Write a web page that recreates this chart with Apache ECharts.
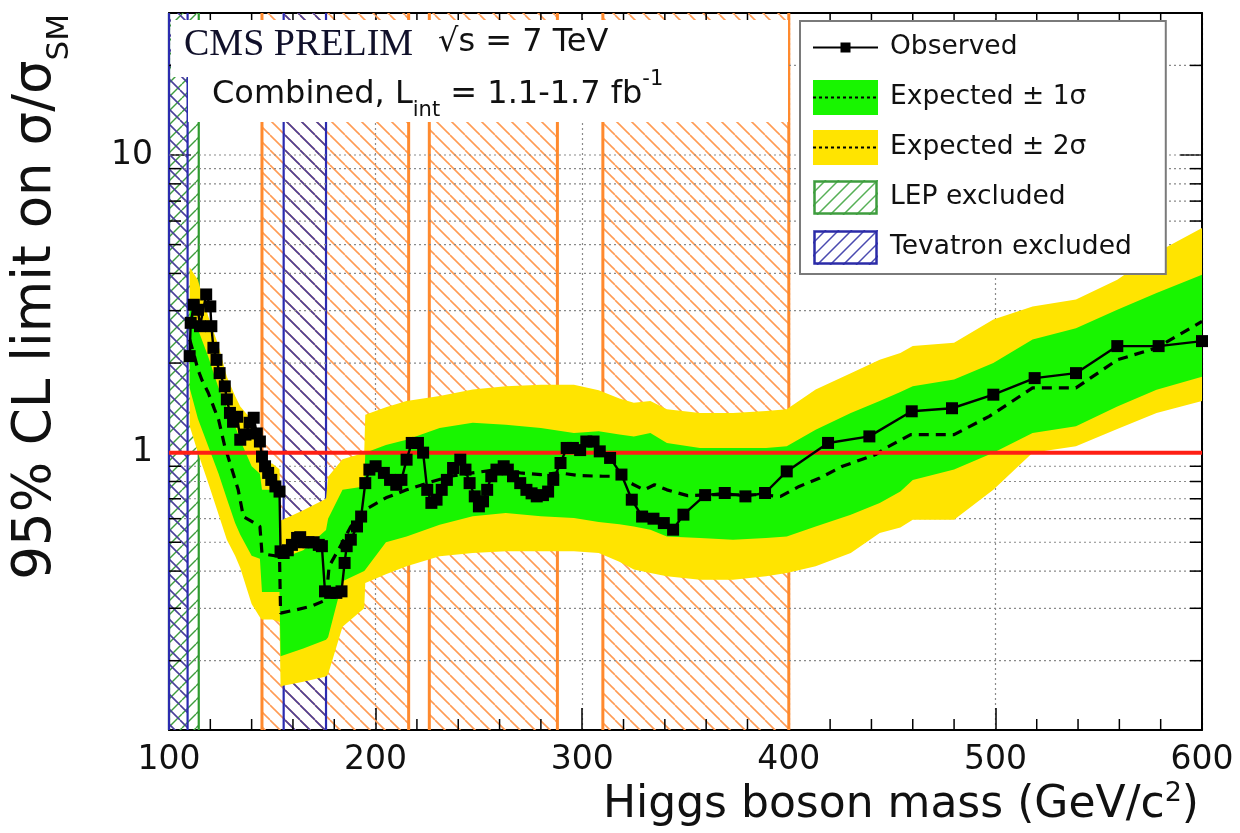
<!DOCTYPE html>
<html>
<head>
<meta charset="utf-8">
<title>CMS combined Higgs limit</title>
<script src="https://cdn.jsdelivr.net/npm/echarts@6/dist/echarts.min.js"></script>
<style>
  html, body { margin: 0; padding: 0; background: #fff; }
  #chart { width: 1240px; height: 833px; }
</style>
</head>
<body>
<div id="chart"></div>
<script>
// axis ranges (GeV on x, sigma/sigma_SM on a log y)
var xMin = 100, xMax = 600, yMin = 0.117, yMax = 30;
var refLimit = 1;

// observed limit
var obsMass = [
  110, 110.5, 112, 114, 115, 118, 120, 120.5, 121.5, 123,
  124.5, 127, 128, 129.5, 131, 133, 134.5, 137, 139, 141,
  142.5, 144, 145, 146.5, 148, 149.5, 151.5, 153.5, 154, 155.5,
  157.5, 159.5, 162, 163.5, 165, 167.5, 170, 172.5, 174, 175.5,
  178, 181, 183.5, 185, 186, 188, 191, 193, 195, 197,
  200, 204, 207, 210, 212.5, 215, 217.5, 220.5, 223, 225,
  227, 229.5, 232, 234.5, 237.5, 241, 243.5, 245.5, 248, 250,
  252, 254, 256, 258.5, 262, 264, 266.5, 270, 273, 275.5,
  278, 281, 283.5, 286, 289.5, 292.5, 295.5, 299, 302, 305.5,
  308.5, 313.5, 319, 324, 329, 334.5, 339.5, 344, 349, 359.5,
  369, 379, 388.5, 399, 419, 439, 459.5, 479, 499, 519,
  539, 559, 579, 600
];
var obsLimit = [
  2.11, 2.73, 3.14, 3.02, 2.66, 3.4, 3.1, 2.66, 2.25, 2.05,
  1.85, 1.67, 1.51, 1.36, 1.27, 1.32, 1.105, 1.15, 1.26, 1.31,
  1.16, 1.09, 0.97, 0.9, 0.855, 0.81, 0.77, 0.74, 0.466, 0.46,
  0.47, 0.49, 0.517, 0.52, 0.5, 0.5, 0.5, 0.49, 0.485, 0.342,
  0.338, 0.338, 0.342, 0.426, 0.485, 0.51, 0.565, 0.61, 0.79, 0.877,
  0.9, 0.855, 0.81, 0.78, 0.81, 0.947, 1.078, 1.078, 1.0, 0.75,
  0.678, 0.695, 0.75, 0.81, 0.888, 0.947, 0.877, 0.79, 0.713, 0.66,
  0.686, 0.75, 0.833, 0.877, 0.9, 0.877, 0.833, 0.79, 0.75, 0.73,
  0.713, 0.72, 0.74, 0.81, 0.923, 1.037, 1.037, 1.02, 1.09, 1.09,
  1.01, 0.96, 0.844, 0.695, 0.61, 0.6, 0.58, 0.551, 0.619, 0.72,
  0.732, 0.713, 0.732, 0.865, 1.078, 1.134, 1.377, 1.41, 1.566, 1.78,
  1.85, 2.28, 2.28, 2.37
];

// median expected limit
var expMass = [
  110, 112, 114, 116, 119, 122, 124, 127, 130, 133.5,
  136, 140, 144, 145, 148, 153.5, 154, 162, 169, 176,
  177.5, 184, 188, 195, 205, 215, 225, 236, 247, 259,
  270, 280, 289, 299, 310, 318, 325, 330, 335, 341,
  351, 360, 373, 386, 396, 405, 415, 426, 442, 447,
  459, 480, 497, 518, 539, 559, 578, 600
];
var expLimit = [
  2.4, 2.15, 1.9, 1.75, 1.59, 1.4, 1.29, 1.05, 0.9, 0.75,
  0.61, 0.588, 0.565, 0.46, 0.454, 0.448, 0.289, 0.297, 0.305, 0.32,
  0.415, 0.5, 0.565, 0.643, 0.705, 0.75, 0.79, 0.833, 0.855, 0.877,
  0.855, 0.844, 0.855, 0.837, 0.833, 0.833, 0.78, 0.75, 0.78, 0.75,
  0.717, 0.722, 0.722, 0.722, 0.713, 0.77, 0.822, 0.9, 0.985, 1.037,
  1.15, 1.15, 1.324, 1.65, 1.65, 2.05, 2.25, 2.76
];

// expected +-1 sigma / +-2 sigma bands
var bandMass = [
  110, 114, 119, 124, 128, 132, 134.5, 140, 144, 145,
  150, 153.5, 154, 165, 176, 177, 184, 194.5, 195, 205,
  215, 231, 247, 263, 280, 296, 308, 318, 325, 333,
  341, 357, 373, 389, 399, 413, 430, 444, 454, 460,
  480, 499, 518, 539, 559, 578, 600
];
var yellow2Up = [
  4.2, 3.8, 2.87, 2.28, 1.8, 1.55, 1.43, 1.29, 1.15, 0.92,
  0.92, 0.88, 0.59, 0.64, 0.7, 0.83, 0.95, 1.0, 1.34, 1.42,
  1.49, 1.55, 1.63, 1.67, 1.69, 1.69, 1.62, 1.52, 1.47, 1.49,
  1.4, 1.36, 1.36, 1.38, 1.4, 1.63, 1.85, 2.05, 2.16, 2.28,
  2.34, 2.8, 3.1, 3.27, 3.81, 4.7, 5.69
];
var green1Up = [
  3.2, 2.6, 2.1, 1.65, 1.42, 1.23, 1.1, 0.9, 0.85, 0.75,
  0.75, 0.75, 0.44, 0.47, 0.55, 0.6, 0.75, 0.77, 1.0, 1.06,
  1.105, 1.21, 1.26, 1.24, 1.21, 1.165, 1.18, 1.15, 1.134, 1.165,
  1.078, 1.037, 1.037, 1.037, 1.05, 1.195, 1.36, 1.49, 1.6, 1.67,
  1.76, 2.0, 2.4, 2.62, 3.02, 3.44, 3.96
];
var green1Down = [
  1.65, 1.3, 1.05, 0.85, 0.7, 0.58, 0.53, 0.45, 0.44, 0.34,
  0.34, 0.34, 0.207, 0.22, 0.235, 0.24, 0.37, 0.4, 0.404, 0.5,
  0.523, 0.573, 0.611, 0.627, 0.611, 0.603, 0.585, 0.575, 0.565, 0.551,
  0.523, 0.517, 0.51, 0.517, 0.523, 0.565, 0.619, 0.678, 0.74, 0.81,
  0.877, 1.0, 1.165, 1.226, 1.43, 1.628, 1.8
];
var yellow2Down = [
  1.23, 1.0, 0.79, 0.62, 0.51, 0.45, 0.41, 0.31, 0.28, 0.275,
  0.275, 0.27, 0.164, 0.17, 0.177, 0.18, 0.26, 0.3, 0.365, 0.39,
  0.415, 0.449, 0.46, 0.466, 0.466, 0.466, 0.46, 0.43, 0.405, 0.394,
  0.384, 0.374, 0.374, 0.384, 0.394, 0.415, 0.46, 0.537, 0.56, 0.595,
  0.595, 0.751, 1.0, 1.05, 1.2, 1.36, 1.49
];

// excluded mass ranges
var cmsExcluded = [[145, 216], [226, 288], [310, 400]];
var lepExcluded = [[100, 114.4]];
var tevExcluded = [[100, 109], [155.5, 176]];

// dotted y grid levels; 1 and 10 carry the long ticks
var yGridLevels = [0.2, 0.3, 0.4, 0.5, 0.6, 0.7, 0.8, 0.9, 2, 3, 4, 5, 6, 7, 8, 9, 10, 20];
var yMajor = [1, 10];
// minor x ticks every 20 GeV (bottom and top)
var xMinorTicks = [120, 140, 160, 180, 220, 240, 260, 280, 320, 340, 360, 380, 420, 440, 460, 480, 520, 540, 560, 580];

var FONT = 'DejaVu Sans';

function hatchPattern(color, slash, step, width) {
  var c = document.createElement('canvas');
  c.width = step; c.height = step;
  var g = c.getContext('2d');
  g.strokeStyle = color; g.lineWidth = width;
  for (var k = -1; k <= 1; k++) {
    g.beginPath();
    if (slash) { g.moveTo(k * step, step); g.lineTo(k * step + step, 0); }
    else { g.moveTo(k * step, 0); g.lineTo(k * step + step, step); }
    g.stroke();
  }
  return { image: c, repeat: 'repeat' };
}

function iconURL(draw) {
  var c = document.createElement('canvas');
  c.width = 65; c.height = 35;
  var g = c.getContext('2d');
  draw(g, 65, 35);
  return 'image://' + c.toDataURL();
}
function bandIcon(color) {
  return iconURL(function (g, w, h) {
    g.fillStyle = color; g.fillRect(0, 0, w, h);
    g.strokeStyle = '#000'; g.lineWidth = 2; g.setLineDash([3, 3]);
    g.beginPath(); g.moveTo(0, h / 2); g.lineTo(w, h / 2); g.stroke();
  });
}
function hatchIcon(color, lineColor) {
  return iconURL(function (g, w, h) {
    g.fillStyle = '#fff'; g.fillRect(0, 0, w, h);
    g.save(); g.beginPath(); g.rect(0, 0, w, h); g.clip();
    g.strokeStyle = lineColor; g.lineWidth = 1.5;
    for (var k = -h; k < w + h; k += 13) {
      g.beginPath(); g.moveTo(k, h); g.lineTo(k + h, 0); g.stroke();
    }
    g.restore();
    g.strokeStyle = color; g.lineWidth = 2.5;
    g.strokeRect(1.5, 1.5, w - 3, h - 3);
  });
}
var iconObserved = iconURL(function (g, w, h) {
  g.strokeStyle = '#000'; g.lineWidth = 2;
  g.beginPath(); g.moveTo(0, h / 2); g.lineTo(w, h / 2); g.stroke();
  g.fillStyle = '#000'; g.fillRect(w / 2 - 5, h / 2 - 5, 10, 10);
});

var orangeFill = hatchPattern('#ff9c55', false, 15, 1.6);
var blueFill = hatchPattern('#4a3f9a', false, 15, 1.6);
var greenFill = hatchPattern('#3e9d3e', true, 14, 1.4);

function hatchItem(fill, edge, edgeWidth) {
  return function (params, api) {
    var cs = params.coordSys;
    var a = api.coord([api.value(0), refLimit])[0];
    var b = api.coord([api.value(1), refLimit])[0];
    var y0 = cs.y, y1 = cs.y + cs.height;
    return {
      type: 'group',
      children: [
        { type: 'rect', shape: { x: a, y: y0, width: b - a, height: cs.height }, style: { fill: fill } },
        { type: 'line', shape: { x1: a, y1: y0, x2: a, y2: y1 }, style: { stroke: edge, lineWidth: edgeWidth } },
        { type: 'line', shape: { x1: b, y1: y0, x2: b, y2: y1 }, style: { stroke: edge, lineWidth: edgeWidth } }
      ]
    };
  };
}

function bandItem(upper, lower, color) {
  return function (params, api) {
    var pts = [];
    for (var i = 0; i < bandMass.length; i++) pts.push(api.coord([bandMass[i], upper[i]]));
    for (var j = bandMass.length - 1; j >= 0; j--) pts.push(api.coord([bandMass[j], lower[j]]));
    return { type: 'polygon', shape: { points: pts }, style: { fill: color } };
  };
}

// dotted horizontal grid + short minor ticks on both y axes
function yGuideItem(params, api) {
  var cs = params.coordSys;
  var v = api.value(1);
  var y = api.coord([xMin, v])[1];
  var kids = [{
    type: 'line',
    shape: { x1: cs.x, y1: y, x2: cs.x + cs.width, y2: y },
    style: { stroke: '#8a8a8a', lineWidth: 1.2, lineDash: [2, 3] }
  }];
  if (yMajor.indexOf(v) < 0) {
    kids.push({ type: 'line', shape: { x1: cs.x, y1: y, x2: cs.x + 12, y2: y }, style: { stroke: '#000', lineWidth: 1.5 } });
    kids.push({ type: 'line', shape: { x1: cs.x + cs.width - 12, y1: y, x2: cs.x + cs.width, y2: y }, style: { stroke: '#000', lineWidth: 1.5 } });
  }
  return { type: 'group', children: kids };
}

// short minor ticks on bottom and top x axes
function xTickItem(params, api) {
  var cs = params.coordSys;
  var x = api.coord([api.value(0), refLimit])[0];
  var yb = cs.y + cs.height, yt = cs.y;
  return {
    type: 'group',
    children: [
      { type: 'line', shape: { x1: x, y1: yb, x2: x, y2: yb - 11 }, style: { stroke: '#000', lineWidth: 1.5 } },
      { type: 'line', shape: { x1: x, y1: yt, x2: x, y2: yt + 11 }, style: { stroke: '#000', lineWidth: 1.5 } }
    ]
  };
}

function pairs(xs, ys) {
  return xs.map(function (x, i) { return [x, ys[i]]; });
}

var chart = echarts.init(document.getElementById('chart'));

var xAxisBase = {
  type: 'value', min: xMin, max: xMax, interval: 100,
  axisLine: { show: true, onZero: false, lineStyle: { color: '#000', width: 2 } },
  axisTick: { show: true, inside: true, length: 22, lineStyle: { color: '#000', width: 1.5 } }
};
var yAxisBase = {
  type: 'log', logBase: 10, min: yMin, max: yMax,
  axisLine: { show: true, onZero: false, lineStyle: { color: '#000', width: 2 } },
  axisTick: { show: true, inside: true, length: 22, lineStyle: { color: '#000', width: 1.5 } },
  splitLine: { show: false }
};

chart.setOption({
  backgroundColor: '#fff',
  animation: false,
  grid: { left: 169, right: 38, top: 13, bottom: 103, containLabel: false, outerBoundsMode: 'none' },
  xAxis: [
    Object.assign({}, xAxisBase, {
      position: 'bottom',
      axisLabel: { fontFamily: FONT, fontSize: 33, color: '#111', margin: 14 },
      splitLine: { show: true, lineStyle: { color: '#8a8a8a', width: 1.2, type: [2, 3] } }
    }),
    Object.assign({}, xAxisBase, {
      position: 'top',
      axisLabel: { show: false },
      splitLine: { show: false }
    })
  ],
  yAxis: [
    Object.assign({}, yAxisBase, {
      position: 'left',
      axisLabel: { fontFamily: FONT, fontSize: 33, color: '#111', margin: 16, showMinLabel: false, showMaxLabel: false }
    }),
    Object.assign({}, yAxisBase, {
      position: 'right',
      axisLabel: { show: false }
    })
  ],
  legend: {
    orient: 'vertical', left: 800, top: 21, z: 20,
    selectedMode: false,
    itemWidth: 65, itemHeight: 35, itemGap: 15,
    padding: [9, 34, 9, 13],
    backgroundColor: '#fff', borderColor: '#7a7a7a', borderWidth: 2,
    textStyle: { fontFamily: FONT, fontSize: 26.5, color: '#111', padding: [0, 0, 0, 7] },
    data: [
      { name: 'Observed', icon: iconObserved },
      { name: 'Expected ± 1σ', icon: bandIcon('#18f500') },
      { name: 'Expected ± 2σ', icon: bandIcon('#ffe400') },
      { name: 'LEP excluded', icon: hatchIcon('#3e9d3e', '#56b056') },
      { name: 'Tevatron excluded', icon: hatchIcon('#2b2ba8', '#4a4ab0') }
    ]
  },
  graphic: [
    { type: 'rect', z: 20, shape: { x: 171, y: 20, width: 617, height: 57 }, style: { fill: '#fff' } },
    { type: 'rect', z: 20, shape: { x: 188, y: 76, width: 600, height: 46 }, style: { fill: '#fff' } },
    {
      type: 'text', z: 21, x: 184, y: 45,
      style: { text: 'CMS PRELIM', fontFamily: 'Liberation Serif', fontSize: 38, fill: '#10102a', verticalAlign: 'middle' }
    },
    {
      type: 'text', z: 21, x: 438, y: 43,
      style: { text: '√s = 7 TeV', fontFamily: FONT, fontSize: 32, fill: '#111', verticalAlign: 'middle' }
    },
    {
      type: 'text', z: 21, x: 212, y: 95,
      style: {
        text: 'Combined, L{sub|int} = 1.1-1.7 fb{sup|-1}',
        fontFamily: FONT, fontSize: 32, lineHeight: 52, fill: '#111', verticalAlign: 'middle',
        rich: {
          sub: { fontFamily: FONT, fontSize: 21, lineHeight: 18, fill: '#111', verticalAlign: 'bottom' },
          sup: { fontFamily: FONT, fontSize: 21, lineHeight: 21, fill: '#111', verticalAlign: 'top' }
        }
      }
    },
    {
      type: 'text', z: 21, x: 36, y: 14, rotation: Math.PI / 2,
      style: {
        text: '95% CL limit on σ/σ{sub|SM}',
        fontFamily: FONT, fontSize: 53, lineHeight: 78, fill: '#111', align: 'right', verticalAlign: 'middle',
        rich: { sub: { fontFamily: FONT, fontSize: 31, lineHeight: 31, fill: '#111', verticalAlign: 'bottom' } }
      }
    },
    {
      type: 'text', z: 21, x: 1199, y: 806,
      style: {
        text: 'Higgs boson mass (GeV/c{sup|2})',
        fontFamily: FONT, fontSize: 44, lineHeight: 52, fill: '#111', align: 'right', verticalAlign: 'middle',
        rich: { sup: { fontFamily: FONT, fontSize: 27, lineHeight: 27, fill: '#111', verticalAlign: 'top' } }
      }
    }
  ],
  series: [
    {
      name: 'CMS excluded', type: 'custom', z: 1, silent: true,
      renderItem: hatchItem(orangeFill, '#ff8a2e', 3),
      data: cmsExcluded
    },
    {
      name: 'LEP excluded', type: 'custom', z: 1, silent: true,
      renderItem: hatchItem(greenFill, '#2f9a2f', 2.2),
      data: lepExcluded
    },
    {
      name: 'Tevatron excluded', type: 'custom', z: 1, silent: true,
      renderItem: hatchItem(blueFill, '#2b2bb0', 2.2),
      data: tevExcluded
    },
    {
      name: 'y grid', type: 'custom', z: 2, silent: true,
      renderItem: yGuideItem,
      data: yGridLevels.map(function (v) { return [xMin, v]; })
    },
    {
      name: 'x ticks', type: 'custom', z: 2, silent: true,
      renderItem: xTickItem,
      data: xMinorTicks.map(function (m) { return [m, refLimit]; })
    },
    {
      name: 'Expected ± 2σ', type: 'custom', z: 6, silent: true,
      renderItem: bandItem(yellow2Up, yellow2Down, '#ffe400'),
      data: [[bandMass[0], yellow2Up[0]]]
    },
    {
      name: 'Expected ± 1σ', type: 'custom', z: 6, silent: true,
      renderItem: bandItem(green1Up, green1Down, '#18f500'),
      data: [[bandMass[0], green1Up[0]]]
    },
    {
      name: 'Expected', type: 'line', z: 7, silent: true,
      symbol: 'none',
      lineStyle: { color: '#000', width: 3.2, type: [10, 7] },
      data: pairs(expMass, expLimit)
    },
    {
      name: 'SM', type: 'line', z: 8, silent: true,
      symbol: 'none',
      lineStyle: { color: '#ff1f14', width: 4 },
      data: [[xMin, refLimit], [xMax, refLimit]]
    },
    {
      name: 'Observed', type: 'line', z: 9, silent: true,
      symbol: 'rect', symbolSize: 12, showAllSymbol: true,
      itemStyle: { color: '#000' },
      lineStyle: { color: '#000', width: 2.4 },
      data: pairs(obsMass, obsLimit)
    }
  ]
});
</script>
</body>
</html>
